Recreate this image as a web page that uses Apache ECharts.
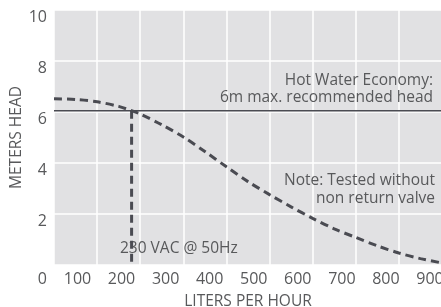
<!DOCTYPE html>
<html>
<head>
<meta charset="utf-8">
<script src="https://cdn.jsdelivr.net/npm/echarts@6/dist/echarts.min.js"></script>
<style>
    html, body { margin: 0; padding: 0; background: #ffffff; }
    #chart { width: 441px; height: 307px; }
</style>
</head>
<body>
<div id="chart"></div>
<script>
// pump curve
const flowLph = [50, 100, 150, 200, 230, 250, 300, 350, 400, 450, 500, 550, 600, 650, 700, 750, 800, 850, 900, 950];
const headM = [6.52, 6.49, 6.4, 6.22, 6.05, 5.92, 5.5, 5.02, 4.45, 3.85, 3.27, 2.76, 2.28, 1.83, 1.42, 1.08, 0.75, 0.47, 0.25, 0.08];

const xTickLabels = ["100", "200", "300", "400", "500", "600", "700", "800", "900"];
const yTickLabels = ["0", "2", "4", "6", "8", "10"];

const maxHead = 6.05;
const supplyFlow = 230;

const textColor = "#58595b";
const lineColor = "#4a4b52";
const fontFamily = "'Open Sans', 'Noto Sans', sans-serif";

let chart = echarts.init(document.getElementById("chart"), null, { renderer: "canvas" });

function noteText(text, right, top) {
    return {
        type: "text",
        right: right,
        top: top,
        z: 2,
        style: {
            text: text,
            align: "right",
            textAlign: "right",
            fill: textColor,
            font: `15.5px ${fontFamily}`,
        },
    };
}

let options = {
    animation: false,
    textStyle: { fontFamily: fontFamily },
    grid: [
        { left: 54, right: -1, top: 10, bottom: 42, outerBoundsMode: "none", containLabel: false, show: true, backgroundColor: "#e1e1e3", borderWidth: 0 },
        { left: 33.4, right: -33.06, top: 10, bottom: 42, outerBoundsMode: "none", containLabel: false },
    ],
    xAxis: [
        {
            type: "value",
            gridIndex: 0,
            min: 50,
            max: 950,
            interval: 100,
            name: "LITERS PER HOUR",
            nameLocation: "middle",
            nameGap: 29,
            nameTextStyle: { color: textColor, fontSize: 15.5 },
            axisLine: { show: false },
            axisTick: { show: false },
            axisLabel: { show: false },
            splitLine: { show: true, lineStyle: { color: "#ffffff", width: 1.5 } },
        },
        {
            type: "value",
            gridIndex: 1,
            min: 0,
            max: 1000,
            interval: 100,
            axisLine: { show: false },
            axisTick: { show: false },
            splitLine: { show: false },
            axisLabel: {
                color: textColor,
                fontSize: 16,
                margin: 6,
                formatter: (value) => {
                    let idx = Math.round(value / 100) - 1;
                    return xTickLabels[idx] !== undefined ? xTickLabels[idx] : "";
                },
            },
        },
    ],
    yAxis: [
        {
            type: "value",
            gridIndex: 0,
            min: 0,
            max: 10,
            interval: 2,
            name: "METERS HEAD",
            nameLocation: "middle",
            nameGap: 29,
            nameMoveOverlap: false,
            nameTextStyle: { color: textColor, fontSize: 15.5 },
            axisLine: { show: false },
            axisTick: { show: false },
            splitLine: { show: true, lineStyle: { color: "#ffffff", width: 1.5 } },
            axisLabel: {
                color: textColor,
                fontSize: 16,
                margin: 7,
                formatter: (value) => {
                    let label = yTickLabels[Math.round(value / 2)];
                    return value === 0 ? `{z|${label}}` : `{n|${label}}`;
                },
                rich: {
                    n: { fontSize: 16, color: textColor, padding: [14, 0, 0, 0] },
                    z: { fontSize: 16, color: textColor, padding: [28, 0, 0, 0] },
                },
            },
        },
        {
            type: "value",
            gridIndex: 1,
            min: 0,
            max: 10,
            show: false,
        },
    ],
    series: [
        {
            type: "line",
            name: "max head",
            xAxisIndex: 0,
            yAxisIndex: 0,
            symbol: "none",
            data: [[50, maxHead], [950, maxHead]],
            lineStyle: { color: lineColor, width: 1.5, type: "solid" },
            z: 3,
        },
        {
            type: "line",
            name: "230 VAC",
            xAxisIndex: 0,
            yAxisIndex: 0,
            symbol: "none",
            data: [[supplyFlow, maxHead], [supplyFlow, 0]],
            lineStyle: { color: lineColor, width: 3, type: [8, 5] },
            z: 4,
        },
        {
            type: "line",
            name: "pump curve",
            xAxisIndex: 0,
            yAxisIndex: 0,
            symbol: "none",
            smooth: 0.3,
            data: flowLph.map((f, i) => [f, headM[i]]),
            lineStyle: { color: lineColor, width: 3, type: [8, 5] },
            z: 4,
        },
    ],
    graphic: [
        noteText("Hot Water Economy:", 8, 73),
        noteText("6m max. recommended head", 8, 90),
        noteText("Note: Tested without", 6, 173),
        noteText("non return valve", 6, 191),
        {
            type: "text",
            left: 120,
            top: 241,
            z: 2,
            style: {
                text: "230 VAC @ 50Hz",
                fill: textColor,
                font: `15.5px ${fontFamily}`,
            },
        },
    ],
};

chart.setOption(options);
</script>
</body>
</html>
